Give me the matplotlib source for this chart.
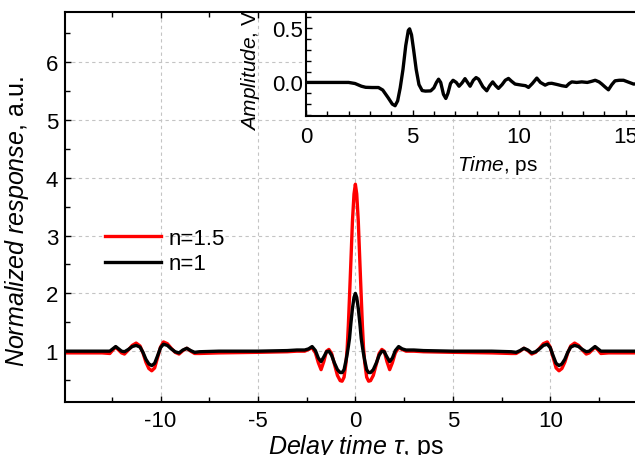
import matplotlib
matplotlib.use("Agg")
import matplotlib.pyplot as plt
from matplotlib.ticker import MultipleLocator

plt.rcParams['font.family'] = ['Liberation Sans', 'DejaVu Sans']
plt.rcParams['mathtext.fontset'] = 'custom'
plt.rcParams['mathtext.rm'] = 'Liberation Sans'
plt.rcParams['mathtext.it'] = 'Liberation Sans:italic'
plt.rcParams['axes.unicode_minus'] = False

# main plot: delay time (ps) and normalized response
delay = [-15.0, -13.0, -12.6, -12.45, -12.3, -12.15, -12.0, -11.85, -11.65, -11.45,
         -11.25, -11.05, -10.9, -10.75, -10.6, -10.45, -10.3, -10.15, -10.0, -9.85,
         -9.65, -9.45, -9.25, -9.05, -8.85, -8.65, -8.45, -8.25, -8.0, -7.0,
         -5.0, -3.5, -3.0, -2.6, -2.4, -2.22, -2.05, -1.9, -1.76, -1.62,
         -1.48, -1.36, -1.22, -1.08, -0.92, -0.78, -0.68, -0.58, -0.48, -0.42,
         -0.36, -0.3, -0.23, -0.15, -0.07, 0.0,
         0.07, 0.15, 0.23, 0.3, 0.36, 0.42, 0.48, 0.58, 0.68, 0.78,
         0.92, 1.08, 1.22, 1.36, 1.48, 1.62, 1.76, 1.9, 2.05, 2.22,
         2.4, 2.6, 3.0, 3.5, 5.0, 7.0, 8.0, 8.25, 8.45, 8.65,
         8.85, 9.05, 9.25, 9.45, 9.65, 9.85, 10.0, 10.15, 10.3, 10.45,
         10.6, 10.75, 10.9, 11.05, 11.25, 11.45, 11.65, 11.85, 12.0, 12.15,
         12.3, 12.45, 12.6, 13.0, 15.0]

resp_n1 = [1.00, 1.00, 1.00, 1.04, 1.08, 1.04, 1.00, 0.99, 1.03, 1.08,
           1.10, 1.07, 0.98, 0.86, 0.78, 0.75, 0.79, 0.92, 1.06, 1.12,
           1.10, 1.04, 0.99, 0.97, 1.02, 1.05, 1.01, 0.98, 0.99, 1.00,
           1.00, 1.01, 1.02, 1.02, 1.04, 1.08, 1.01, 0.88, 0.82, 0.90,
           0.99, 1.00, 0.93, 0.80, 0.68, 0.63, 0.63, 0.68, 0.84, 0.95,
           1.08, 1.22, 1.48, 1.74, 1.93, 2.00,
           1.93, 1.74, 1.48, 1.22, 1.08, 0.95, 0.84, 0.68, 0.63, 0.63,
           0.68, 0.80, 0.93, 1.00, 0.99, 0.90, 0.82, 0.88, 1.01, 1.08,
           1.04, 1.02, 1.02, 1.01, 1.00, 1.00, 0.99, 0.98, 1.01, 1.05,
           1.02, 0.97, 0.99, 1.04, 1.10, 1.12, 1.06, 0.92, 0.79, 0.75,
           0.78, 0.86, 0.98, 1.07, 1.10, 1.08, 1.03, 0.99, 1.00, 1.04,
           1.08, 1.04, 1.00, 1.00, 1.00]

resp_n15 = [0.97, 0.97, 0.96, 1.02, 1.07, 1.02, 0.97, 0.95, 1.02, 1.10,
            1.14, 1.09, 0.97, 0.81, 0.70, 0.66, 0.71, 0.89, 1.07, 1.16,
            1.13, 1.05, 0.98, 0.95, 1.01, 1.05, 1.00, 0.96, 0.96, 0.97,
            0.98, 0.99, 1.00, 1.00, 1.03, 1.06, 0.97, 0.80, 0.68, 0.82,
            1.00, 1.03, 0.96, 0.78, 0.58, 0.49, 0.48, 0.55, 0.80, 1.05,
            1.45, 1.95, 2.55, 3.25, 3.72, 3.89,
            3.72, 3.25, 2.55, 1.95, 1.45, 1.05, 0.80, 0.55, 0.48, 0.49,
            0.58, 0.78, 0.96, 1.03, 1.00, 0.82, 0.68, 0.80, 0.97, 1.06,
            1.03, 1.00, 1.00, 0.99, 0.98, 0.97, 0.96, 0.96, 1.00, 1.05,
            1.01, 0.95, 0.98, 1.05, 1.13, 1.16, 1.07, 0.89, 0.71, 0.66,
            0.70, 0.81, 0.97, 1.09, 1.14, 1.10, 1.02, 0.95, 0.97, 1.02,
            1.07, 1.02, 0.96, 0.97, 0.97]

# inset: THz pulse, time (ps) and amplitude (V)
time_ps = [0.0, 1.0, 2.0, 2.3, 2.6, 2.8, 3.1, 3.4, 3.6, 3.85,
           4.05, 4.18, 4.3, 4.42, 4.55, 4.68, 4.8, 4.86, 4.95, 5.05,
           5.17, 5.3, 5.45, 5.6, 5.85, 6.0, 6.12, 6.22, 6.32, 6.45,
           6.56, 6.66, 6.78, 6.9, 7.05, 7.18, 7.32, 7.46, 7.58, 7.7,
           7.85, 7.98, 8.1, 8.3, 8.48, 8.62, 8.76, 8.9, 9.03, 9.2,
           9.35, 9.5, 9.65, 9.81, 10.12, 10.3, 10.44, 10.62, 10.83, 11.0,
           11.22, 11.38, 11.53, 11.8, 12.0, 12.21, 12.35, 12.47, 12.7, 12.94,
           13.2, 13.4, 13.57, 13.75, 13.88, 14.05, 14.19, 14.35, 14.5, 14.7,
           14.9, 15.1, 15.37, 15.7, 16.0]
amplitude = [0.0, 0.0, 0.0, -0.01, -0.035, -0.045, -0.047, -0.047, -0.07, -0.14,
             -0.2, -0.215, -0.17, -0.05, 0.12, 0.34, 0.48, 0.495, 0.44, 0.3,
             0.12, -0.02, -0.075, -0.08, -0.078, -0.05, 0.0, 0.03, 0.0, -0.11,
             -0.148, -0.1, -0.01, 0.02, 0.0, -0.035, -0.005, 0.035, 0.0, -0.035,
             0.02, 0.045, 0.03, -0.04, -0.077, -0.03, 0.005, -0.03, -0.055, -0.02,
             0.02, 0.037, 0.01, -0.015, -0.025, -0.03, -0.046, -0.01, 0.04, 0.0,
             -0.025, -0.01, -0.008, -0.02, -0.03, -0.037, -0.01, 0.005, 0.0, 0.005,
             0.0, 0.01, 0.02, 0.005, -0.015, -0.045, -0.068, -0.02, 0.015, 0.02,
             0.02, 0.005, -0.015, -0.01, -0.01]

fig = plt.figure(figsize=(6.35, 4.56), dpi=100)
ax = fig.add_axes([0.1024, 0.1162, 0.916, 0.8553])

ax.plot(delay, resp_n15, color='#ff0000', lw=2.4, label='n=1.5')
ax.plot(delay, resp_n1, color='black', lw=2.4, label='n=1')

ax.set_xlim(-14.9, 14.95)
ax.set_ylim(0.12, 6.87)
ax.xaxis.set_major_locator(MultipleLocator(5))
ax.xaxis.set_minor_locator(MultipleLocator(2.5))
ax.yaxis.set_major_locator(MultipleLocator(1))
ax.yaxis.set_minor_locator(MultipleLocator(0.5))
ax.grid(True, which='major', color='#c4c4c4', ls=(0, (3, 3)), lw=0.8)
ax.set_axisbelow(True)
ax.tick_params(which='both', direction='in', top=True, right=True, width=1.0, labelsize=16)
ax.tick_params(which='major', length=4.5)
ax.tick_params(which='minor', length=3.5)
ax.tick_params(axis='x', pad=6)
ax.tick_params(axis='y', pad=5)
for s in ax.spines.values():
    s.set_linewidth(1.5)

ax.set_xlabel(r'$\mathit{Delay\ time\ \tau}$, ps', fontsize=18)
ax.set_ylabel(r'$\mathit{Normalized\ response}$, a.u.', fontsize=18)
ax.xaxis.set_label_coords(0.50, -0.078)
ax.yaxis.set_label_coords(-0.058, 0.465)

ax.legend(loc='center left', bbox_to_anchor=(0.069, 0.387), frameon=False,
          fontsize=16, handlelength=2.5, handletextpad=0.35, labelspacing=0.2,
          borderpad=0, borderaxespad=0)

# inset
ins = fig.add_axes([0.4819, 0.7434, 0.537, 0.228])
ins.plot(time_ps, amplitude, color='black', lw=2.4)
ins.set_xlim(0, 16)
ins.set_ylim(-0.31, 0.65)
ins.xaxis.set_major_locator(MultipleLocator(5))
ins.xaxis.set_minor_locator(MultipleLocator(1))
ins.yaxis.set_major_locator(MultipleLocator(0.5))
ins.yaxis.set_minor_locator(MultipleLocator(0.1))
ins.tick_params(which='both', direction='in', width=1.0, labelsize=16)
ins.tick_params(which='major', length=4.5)
ins.tick_params(which='minor', length=3.5)
ins.tick_params(axis='x', pad=7)
ins.tick_params(axis='y', pad=2)
for s in ins.spines.values():
    s.set_linewidth(1.5)
ins.set_xlabel(r'$\mathit{Time}$, ps', fontsize=15)
ins.set_ylabel(r'$\mathit{Amplitude}$, V', fontsize=15)
ins.xaxis.set_label_coords(0.563, -0.36)
ins.yaxis.set_label_coords(-0.128, 0.45)

fig.savefig('out.png', dpi=100)
